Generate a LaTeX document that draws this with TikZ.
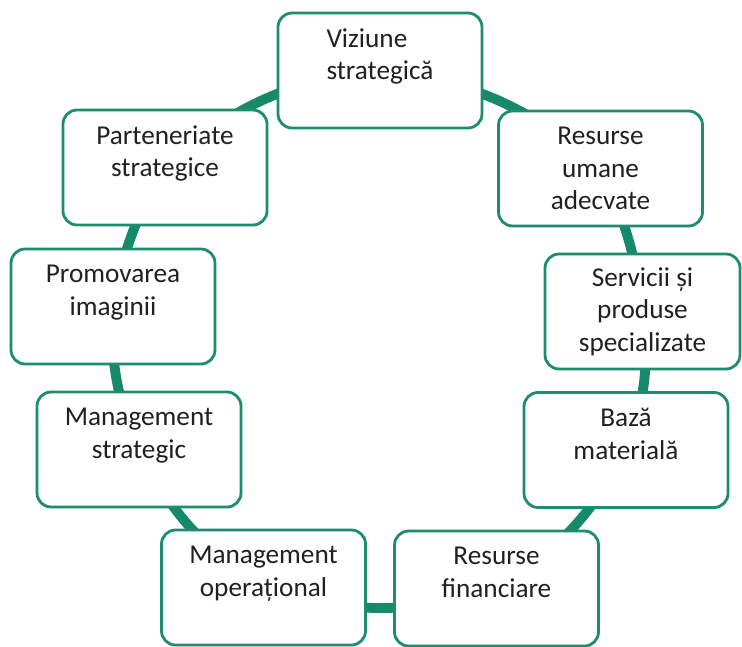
\documentclass[tikz,border=0pt]{standalone}
\usepackage{fontspec}
\setmainfont{Carlito}
\usepackage{xcolor}
\definecolor{cGreen}{HTML}{1E8C6E}
\definecolor{cRing} {HTML}{15896A}
\definecolor{cText} {HTML}{231F20}
\usepackage{tikz}
\usetikzlibrary{backgrounds}
\tikzset{
  box/.style   = {rectangle, draw=cGreen, line width=1.6pt, rounded corners=8pt,
                  fill=white, minimum width=#1, minimum height=2.3cm,
                  align=center, text=cText,
                  font=\fontsize{15.5}{18.5}\selectfont},
  box/.default = 4.08cm,
  ring/.style  = {draw=cRing, line width=5.6pt},
}

\begin{document}
\begin{tikzpicture}

  \useasboundingbox (0,0) rectangle (14.84,12.92);

  %% --- top and right side ---
  \node[box, align=left] (viz)   at (7.60,11.51) {Viziune\\strategică\\\mbox{}};
  \node[box]             (resum) at (12.01,9.55) {Resurse\\umane\\adecvate};
  \node[box=3.9cm]       (serv)  at (12.85,6.69) {Servicii și\\produse\\specializate};
  \node[box]             (baza)  at (12.52,3.92) {Bază\\materială\\\mbox{}};

  %% --- bottom ---
  \node[box] (resfin) at (9.93,1.15) {Resurse\\financiare\\\mbox{}};
  \node[box] (mop)    at (5.27,1.17) {Management\\operațional\\\mbox{}};

  %% --- left side ---
  \node[box] (mstr) at (2.78,3.93) {Management\\strategic\\\mbox{}};
  \node[box] (prom) at (2.26,6.79) {Promovarea\\imaginii\\\mbox{}};
  \node[box] (part) at (3.30,9.57) {Parteneriate\\strategice\\\mbox{}};

  %% --- ring behind the boxes ---
  \begin{scope}[on background layer]
    \fill[white] (0,0) rectangle (14.84,12.92);
    \draw[ring] (viz.center)    to[bend left=17] (resum.center);
    \draw[ring] (resum.center)  to[bend left=9]  (serv.center);
    \draw[ring] (serv.center)   to[bend left=14] (baza.center);
    \draw[ring] (baza.center)   to[bend left=15] (resfin.center);
    \draw[ring] (resfin.center) to[bend left=17] (mop.center);
    \draw[ring] (mop.center)    to[bend left=15] (mstr.center);
    \draw[ring] (mstr.center)   to[bend left=13] (prom.center);
    \draw[ring] (prom.center)   to[bend left=10] (part.center);
    \draw[ring] (part.center)   to[bend left=18] (viz.center);
  \end{scope}

\end{tikzpicture}
\end{document}
